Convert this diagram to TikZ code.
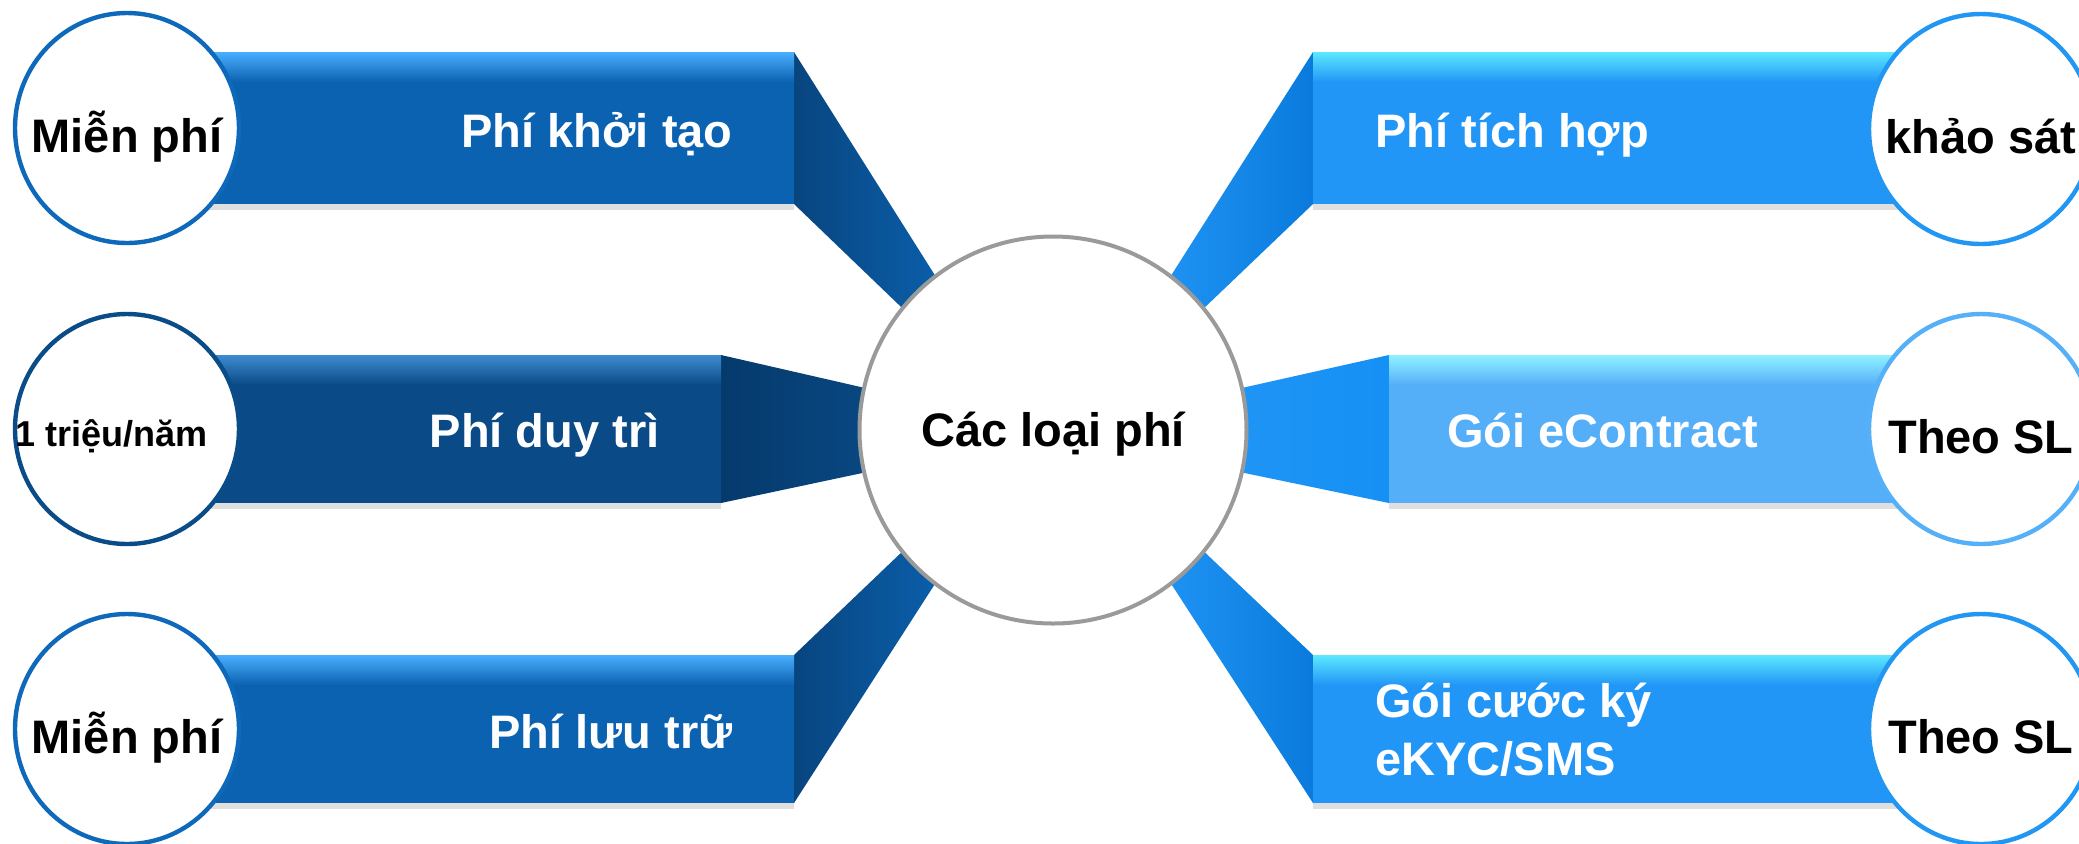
\documentclass[tikz,border=0pt]{standalone}
\usepackage{fontspec}
\setmainfont{Liberation Sans}
\usetikzlibrary{%
		shapes.geometric%
		,shadows%
	}

\definecolor{bluemain}{HTML}{0B62B0}
\definecolor{bluehl}{HTML}{4AAEFF}
\definecolor{bluewedge}{HTML}{08457F}
\definecolor{bluering}{HTML}{0E69BA}
\definecolor{navymain}{HTML}{0A4A86}
\definecolor{navyhl}{HTML}{3F8BD0}
\definecolor{navywedge}{HTML}{053A6C}
\definecolor{navyring}{HTML}{0A4C88}
\definecolor{skymain}{HTML}{2196F6}
\definecolor{skyhl}{HTML}{5CE8FF}
\definecolor{skywedge}{HTML}{0A7BDC}
\definecolor{skyring}{HTML}{2196F3}
\definecolor{palemain}{HTML}{55AEF8}
\definecolor{palehl}{HTML}{90F2FF}
\definecolor{palewedge}{HTML}{1590F4}
\definecolor{palering}{HTML}{55B0F8}
\definecolor{ringgray}{HTML}{9A9A9A}

\tikzset{
	bartext/.style={text=white, inner sep=0pt, font=\bfseries\fontsize{23.5}{29}\selectfont},
	tag/.style={ellipse, draw=#1, line width=2.2pt, fill=white, minimum width=112pt, minimum height=115pt,
		inner sep=0pt, text height=24pt, text depth=0pt, font=\bfseries\fontsize{23.5}{28}\selectfont},
	barshadow/.style={drop shadow={opacity=0.25, shadow xshift=0pt, shadow yshift=-3pt}},
}

\begin{document}
\begin{tikzpicture}[x=0.5pt,y=-0.5pt]
			\useasboundingbox (0,0) rectangle (2079,843);

			\shade[left color=bluewedge, right color=bluemain] (794,52) -- (960,315) -- (950,354) -- (794,204) -- cycle;
			\shade[left color=navywedge, right color=navymain] (721,355) -- (900,396) -- (900,465) -- (721,503) -- cycle;
			\shade[left color=bluewedge, right color=bluemain] (794,655) -- (950,506) -- (960,545) -- (794,803) -- cycle;
			\shade[right color=skywedge, left color=skymain] (1313,52) -- (1146,315) -- (1156,354) -- (1313,204) -- cycle;
			\shade[right color=palewedge, left color=skymain] (1389,355) -- (1206,396) -- (1206,465) -- (1389,503) -- cycle;
			\shade[right color=skywedge, left color=skymain] (1313,655) -- (1156,506) -- (1146,545) -- (1313,803) -- cycle;

			\fill[bluemain, barshadow] (127,52) rectangle (794,204);
			\shade[top color=bluehl, bottom color=bluemain] (127,52) rectangle (794,82);
			\fill[navymain, barshadow] (127,355) rectangle (721,503);
			\shade[top color=navyhl, bottom color=navymain] (127,355) rectangle (721,385);
			\fill[bluemain, barshadow] (127,655) rectangle (794,803);
			\shade[top color=bluehl, bottom color=bluemain] (127,655) rectangle (794,685);

			\fill[skymain, barshadow] (1313,52) rectangle (1981,204);
			\shade[top color=skyhl, bottom color=skymain] (1313,52) rectangle (1981,82);
			\fill[palemain, barshadow] (1389,355) rectangle (1981,503);
			\shade[top color=palehl, bottom color=palemain] (1389,355) rectangle (1981,385);
			\fill[skymain, barshadow] (1313,655) rectangle (1981,803);
			\shade[top color=skyhl, bottom color=skymain] (1313,655) rectangle (1981,685);

			\node[bartext, anchor=base east] (setup) at (733,147) {Phí khởi tạo};
			\node[bartext, anchor=base east] (upkeep) at (660,447) {Phí duy trì};
			\node[bartext, anchor=base east] (storage) at (733,748) {Phí lưu trữ};
			\node[bartext, anchor=base west] (integrate) at (1375,147) {Phí tích hợp};
			\node[bartext, anchor=base west] (contract) at (1447,447) {Gói eContract};
			\node[bartext, anchor=base west, align=left] (ekyc) at (1375,775) {Gói cước ký\\eKYC/SMS};

			\node[tag=bluering] (setupfee) at (127,128) {\makebox[0pt]{Miễn phí}};
			\node[tag=navyring, text height=17pt, font=\bfseries\fontsize{18}{22}\selectfont] (upkeepfee) at (127,429) {\makebox[0pt]{1 triệu/năm\hspace{15pt}}};
			\node[tag=bluering] (storagefee) at (127,729) {\makebox[0pt]{Miễn phí}};
			\node[tag=skyring] (integratefee) at (1981,129) {\makebox[0pt]{khảo sát}};
			\node[tag=palering] (contractfee) at (1981,429) {\makebox[0pt]{Theo SL}};
			\node[tag=skyring] (ekycfee) at (1981,729) {\makebox[0pt]{Theo SL}};

			\node[circle, draw=ringgray, line width=2pt, fill=white, minimum size=193.5pt, inner sep=0pt,
				text height=16pt, text depth=0pt, font=\bfseries\fontsize{23.5}{28}\selectfont] (fees) at (1053,430) {\makebox[0pt]{Các loại phí}};
		\end{tikzpicture}
\end{document}
